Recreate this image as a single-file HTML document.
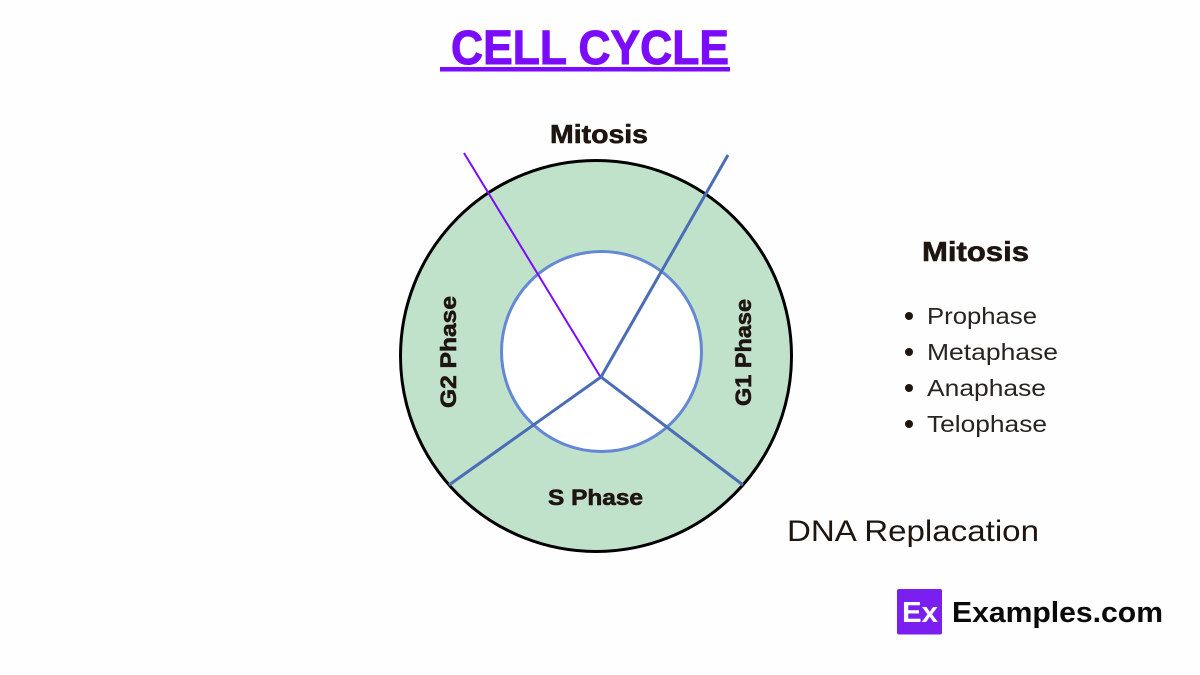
<!DOCTYPE html>
<html>
<head>
<meta charset="utf-8">
<style>
html,body{margin:0;padding:0;background:#fefefe;}
svg{display:block;}
text{font-family:"Liberation Sans",sans-serif;}
.b{stroke:#1f1510;stroke-width:0.6;}
</style>
</head>
<body>
<svg width="1200" height="675" viewBox="0 0 1200 675" xmlns="http://www.w3.org/2000/svg">
<rect width="1200" height="675" fill="#fefefe"/>
<text x="451" y="64" font-size="48" font-weight="bold" fill="#7a0cfb" stroke="#7a0cfb" stroke-width="1" textLength="278" lengthAdjust="spacingAndGlyphs">CELL CYCLE</text>
<rect x="440" y="67" width="290" height="4.5" fill="#7a0cfb"/>
<text class="b" x="550" y="143" font-size="26" font-weight="bold" fill="#1f1510" textLength="98" lengthAdjust="spacingAndGlyphs">Mitosis</text>
<circle cx="596" cy="356" r="195.5" fill="#c0e1ca" stroke="#000" stroke-width="3"/>
<circle cx="601.5" cy="351.5" r="100" fill="#fff" stroke="#6487d6" stroke-width="3"/>
<line x1="464" y1="153" x2="600.5" y2="377" stroke="#7a0cfb" stroke-width="2"/>
<line x1="728" y1="155" x2="601" y2="377" stroke="#4a6db5" stroke-width="3"/>
<line x1="601" y1="377" x2="449" y2="485" stroke="#4a6db5" stroke-width="3"/>
<line x1="601" y1="377" x2="743" y2="485" stroke="#4a6db5" stroke-width="3"/>
<text class="b" transform="translate(456,408) rotate(-90)" font-size="22" font-weight="bold" fill="#1f1510" textLength="112" lengthAdjust="spacingAndGlyphs">G2 Phase</text>
<text class="b" transform="translate(751,406) rotate(-90)" font-size="22" font-weight="bold" fill="#1f1510" textLength="107" lengthAdjust="spacingAndGlyphs">G1 Phase</text>
<text class="b" x="548" y="505" font-size="22" font-weight="bold" fill="#1f1510" textLength="95" lengthAdjust="spacingAndGlyphs">S Phase</text>
<text class="b" x="922" y="261" font-size="28" font-weight="bold" fill="#1f1510" textLength="107" lengthAdjust="spacingAndGlyphs">Mitosis</text>
<circle cx="909" cy="316" r="4" fill="#1f1510"/>
<circle cx="909" cy="352" r="4" fill="#1f1510"/>
<circle cx="909" cy="388" r="4" fill="#1f1510"/>
<circle cx="909" cy="424" r="4" fill="#1f1510"/>
<text x="927" y="324" font-size="23" fill="#2a2320" textLength="110" lengthAdjust="spacingAndGlyphs">Prophase</text>
<text x="927" y="360" font-size="23" fill="#2a2320" textLength="131" lengthAdjust="spacingAndGlyphs">Metaphase</text>
<text x="927" y="396" font-size="23" fill="#2a2320" textLength="119" lengthAdjust="spacingAndGlyphs">Anaphase</text>
<text x="927" y="432" font-size="23" fill="#2a2320" textLength="120" lengthAdjust="spacingAndGlyphs">Telophase</text>
<text x="787" y="541" font-size="30" fill="#1f1510" textLength="252" lengthAdjust="spacingAndGlyphs">DNA Replacation</text>
<rect x="897" y="589" width="45" height="45.5" rx="2" fill="#7a1ff0"/>
<text x="902" y="622" font-size="29" font-weight="bold" fill="#fff" textLength="36" lengthAdjust="spacingAndGlyphs">Ex</text>
<text x="952" y="622" font-size="29" font-weight="bold" fill="#0a0a0a" textLength="211" lengthAdjust="spacingAndGlyphs">Examples.com</text>
</svg>
</body>
</html>
